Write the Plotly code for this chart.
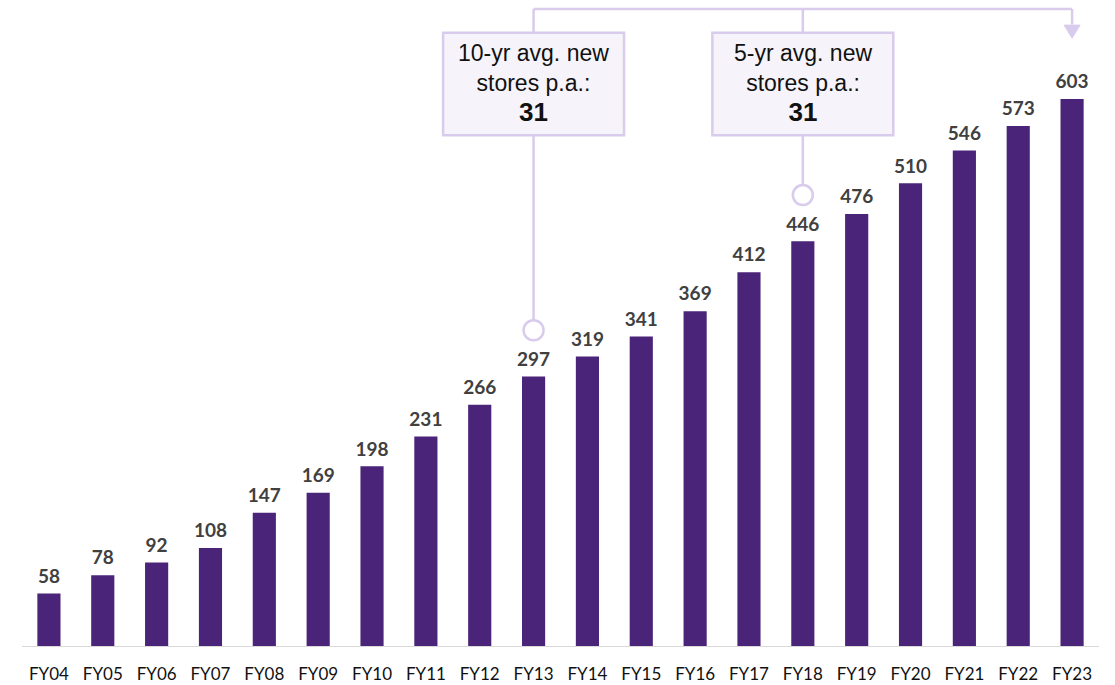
import plotly.graph_objects as go

categories = ["FY04", "FY05", "FY06", "FY07", "FY08", "FY09", "FY10", "FY11", "FY12", "FY13",
              "FY14", "FY15", "FY16", "FY17", "FY18", "FY19", "FY20", "FY21", "FY22", "FY23"]
stores = [58, 78, 92, 108, 147, 169, 198, 231, 266, 297,
          319, 341, 369, 412, 446, 476, 510, 546, 573, 603]
callout_years = ["FY13", "FY18"]
callout_titles = ["10-yr avg. new<br>stores p.a.:", "5-yr avg. new<br>stores p.a.:"]
callout_values = [31, 31]
arrow_year = "FY23"

BAR = "#4A2479"
LAV = "#D8CBEC"
BOXFILL = "#F6F4FA"

fig = go.Figure()
fig.add_trace(go.Bar(
    x=categories, y=stores, marker_color=BAR, marker_line_width=0, hoverinfo="x+y",
))
fig.add_trace(go.Scatter(
    x=categories, y=stores, mode="markers+text", text=[str(v) for v in stores],
    textposition="top center", cliponaxis=False, hoverinfo="skip",
    marker=dict(size=8, color="rgba(0,0,0,0)"),
    textfont=dict(family="Lato", size=19, color="#404040", weight="bold"),
))

idx = {c: i for i, c in enumerate(categories)}
Y_TOP = 702
BOX_TOP, BOX_BOT = 676, 563
HALF_W = 1.68
shapes = []
shapes.append(dict(type="line", x0=idx[callout_years[0]], x1=idx[arrow_year], y0=Y_TOP, y1=Y_TOP,
                   line=dict(color=LAV, width=2.5)))
for yr, title, val in zip(callout_years, callout_titles, callout_values):
    i = idx[yr]
    v = stores[i]
    shapes.append(dict(type="line", x0=i, x1=i, y0=Y_TOP, y1=BOX_TOP, line=dict(color=LAV, width=2.5)))
    shapes.append(dict(type="line", x0=i, x1=i, y0=BOX_BOT, y1=v + 51 + 11, line=dict(color=LAV, width=2.5)))
    shapes.append(dict(type="rect", x0=i - HALF_W, x1=i + HALF_W, y0=BOX_BOT, y1=BOX_TOP,
                       fillcolor=BOXFILL, line=dict(color=LAV, width=2.5)))
    shapes.append(dict(type="circle", xsizemode="pixel", ysizemode="pixel", xanchor=i, yanchor=v + 51,
                       x0=-10, x1=10, y0=-10, y1=10, fillcolor="white", line=dict(color=LAV, width=2.5)))
    fig.add_annotation(x=i, y=(BOX_TOP + BOX_BOT) / 2, text=f"{title}<br><b><span style='font-size:26px'>{val}</span></b>",
                       showarrow=False, font=dict(family="Liberation Sans", size=23, color="#111111"),
                       align="center")
ia = idx[arrow_year]
shapes.append(dict(type="line", x0=ia, x1=ia, y0=Y_TOP, y1=685, line=dict(color=LAV, width=2.5)))
shapes.append(dict(type="path", xsizemode="pixel", ysizemode="pixel", xanchor=ia, yanchor=670,
                   path="M -8 13 L 8 13 L 0 0 Z", fillcolor=LAV, line=dict(color=LAV, width=1)))

fig.update_layout(
    width=1115, height=685, margin=dict(l=22, r=16, t=0, b=39),
    plot_bgcolor="white", paper_bgcolor="white", showlegend=False,
    bargap=0.57, shapes=shapes,
    xaxis=dict(type="category", range=[-0.5, 19.5], showgrid=False, showline=True,
               linecolor="#D9D9D9", linewidth=1, ticks="", ticklabelstandoff=13,
               tickfont=dict(family="Lato", size=17, color="#111111")),
    yaxis=dict(range=[0, 712], visible=False, showgrid=False),
)
fig.write_html("out.html", config={"displayModeBar": False},
               post_script="document.body.style.margin='0px';")
